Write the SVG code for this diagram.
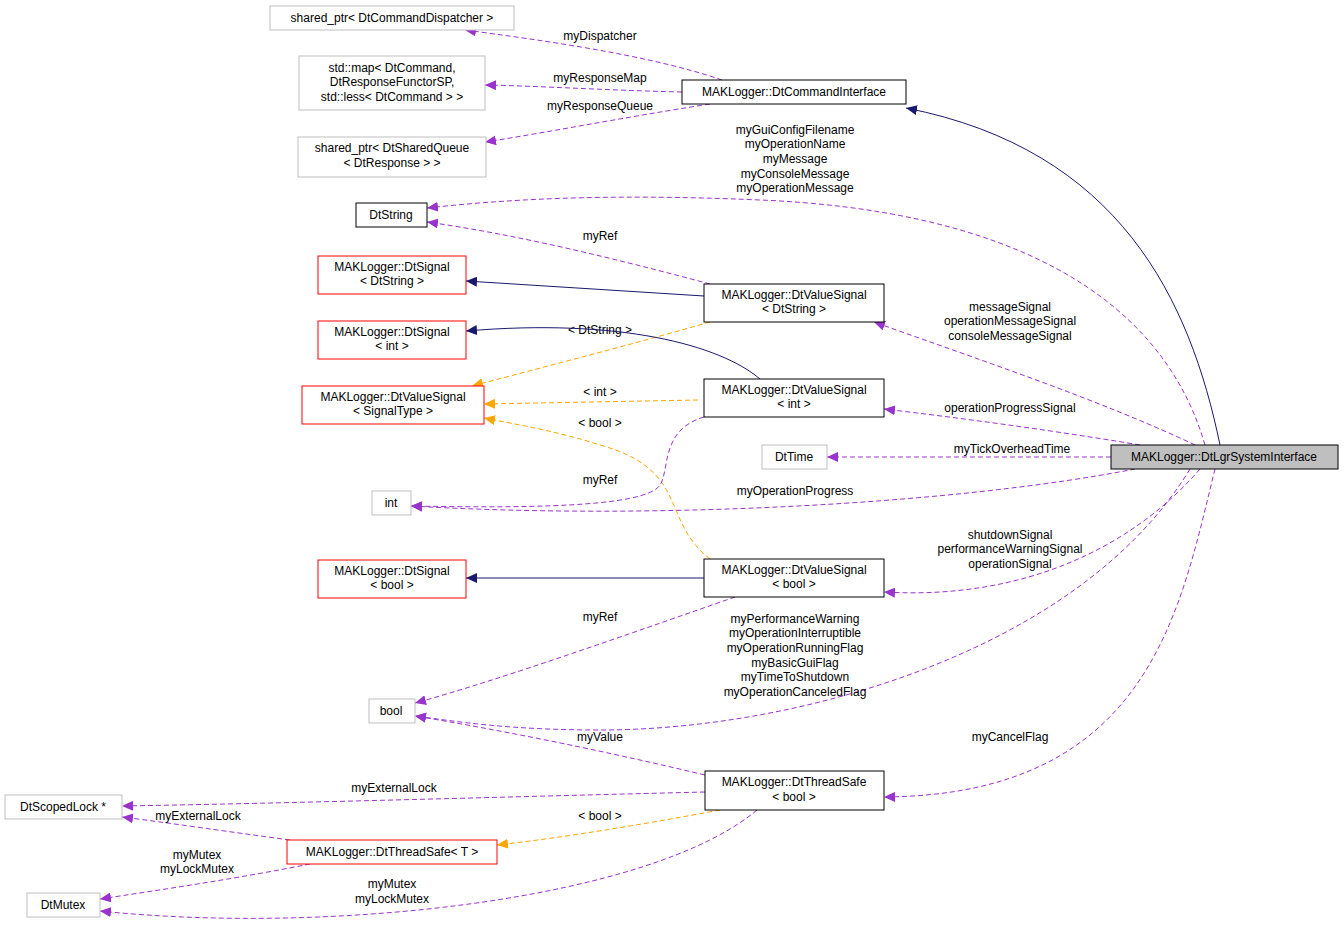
<svg xmlns="http://www.w3.org/2000/svg" width="1344" height="930" viewBox="0 0 1344 930">
<style>
text{font-family:"Liberation Sans",Arial,sans-serif;font-size:12px;fill:#000;text-anchor:middle}
.g{fill:#fff;stroke:#bfbfbf}
.b{fill:#fff;stroke:#000}
.r{fill:#fff;stroke:#ff0000}
.p{fill:none;stroke:#9a32cd;stroke-dasharray:5,3;marker-end:url(#mp)}
.o{fill:none;stroke:#ffa500;stroke-dasharray:5,3;marker-end:url(#mo)}
.n{fill:none;stroke:#191970;marker-end:url(#mn)}
</style>
<defs>
<marker id="mp" markerWidth="12" markerHeight="10" refX="11" refY="5" orient="auto" markerUnits="userSpaceOnUse"><path d="M0,0L11,5L0,10z" fill="#9a32cd"/></marker>
<marker id="mo" markerWidth="12" markerHeight="10" refX="11" refY="5" orient="auto" markerUnits="userSpaceOnUse"><path d="M0,0L11,5L0,10z" fill="#ffa500"/></marker>
<marker id="mn" markerWidth="12" markerHeight="10" refX="11" refY="5" orient="auto" markerUnits="userSpaceOnUse"><path d="M0,0L11,5L0,10z" fill="#191970"/></marker>
</defs>
<rect width="1344" height="930" fill="#fff"/>
<g id="edges">
<path class="p" d="M722,80C650,55 540,40 465,30"/><text x="600" y="40">myDispatcher</text>
<path class="p" d="M682,92C600,90 540,86 485,85"/><text x="600" y="82">myResponseMap</text>
<path class="p" d="M710,104C620,118 550,132 485,142"/><text x="600" y="110">myResponseQueue</text>
<path class="n" d="M1220,445C1190,300 1120,150 906,108"/>
<path class="p" d="M1205,445C1160,290 1000,210 760,200C600,193 500,200 427,208"/>
<text x="795" y="134">myGuiConfigFilename</text><text x="795" y="148">myOperationName</text><text x="795" y="163">myMessage</text><text x="795" y="178">myConsoleMessage</text><text x="795" y="192">myOperationMessage</text>
<path class="p" d="M710,284C620,260 520,235 427,222"/><text x="600" y="240">myRef</text>
<path class="n" d="M704,296L466,281"/>
<path class="o" d="M710,322C630,345 540,368 472,386"/><text x="600" y="334">&lt; DtString &gt;</text>
<path class="n" d="M760,379C720,345 620,318 466,331"/>
<path class="o" d="M698,400L484,404"/><text x="600" y="396">&lt; int &gt;</text>
<path class="o" d="M710,559C660,520 690,470 600,445C560,432 520,425 484,418"/><text x="600" y="427">&lt; bool &gt;</text>
<path class="p" d="M704,417C660,430 670,470 660,485C645,508 520,508 411,506"/><text x="600" y="484">myRef</text>
<path class="p" d="M1195,445C1100,400 980,360 874,322"/>
<text x="1010" y="311">messageSignal</text><text x="1010" y="325">operationMessageSignal</text><text x="1010" y="340">consoleMessageSignal</text>
<path class="p" d="M1140,445C1050,430 960,418 884,409"/><text x="1010" y="412">operationProgressSignal</text>
<path class="p" d="M1111,457L827,457"/><text x="1012" y="453">myTickOverheadTime</text>
<path class="p" d="M1135,469C950,505 650,520 411,506"/><text x="795" y="495">myOperationProgress</text>
<path class="n" d="M704,578L466,578"/>
<path class="p" d="M1200,469C1130,550 1020,600 884,592"/>
<text x="1010" y="539">shutdownSignal</text><text x="1010" y="553">performanceWarningSignal</text><text x="1010" y="568">operationSignal</text>
<path class="p" d="M735,597C640,630 500,680 415,703"/><text x="600" y="621">myRef</text>
<path class="p" d="M1190,469C1080,650 800,730 600,730C510,730 460,722 415,716"/>
<text x="795" y="623">myPerformanceWarning</text><text x="795" y="637">myOperationInterruptible</text><text x="795" y="652">myOperationRunningFlag</text><text x="795" y="667">myBasicGuiFlag</text><text x="795" y="681">myTimeToShutdown</text><text x="795" y="696">myOperationCanceledFlag</text>
<path class="p" d="M705,775C600,750 500,730 415,716"/><text x="600" y="741">myValue</text>
<path class="p" d="M1215,469C1180,610 1150,795 884,797"/><text x="1010" y="741">myCancelFlag</text>
<path class="p" d="M705,792C500,797 300,803 122,806"/><text x="394" y="792">myExternalLock</text>
<path class="p" d="M290,840C230,832 170,823 122,817"/><text x="198" y="820">myExternalLock</text>
<path class="o" d="M720,810C640,825 560,838 497,845"/><text x="600" y="820">&lt; bool &gt;</text>
<path class="p" d="M310,864C240,878 160,890 100,899"/><text x="197" y="859">myMutex</text><text x="197" y="873">myLockMutex</text>
<path class="p" d="M757,810C650,900 330,935 100,911"/><text x="392" y="888">myMutex</text><text x="392" y="903">myLockMutex</text>
</g>
<g id="n1"><rect class="g" x="270" y="6" width="244" height="24"/><text x="392" y="22">shared_ptr&lt; DtCommandDispatcher &gt;</text></g>
<g id="n2"><rect class="g" x="299" y="56" width="186" height="54"/><text x="392" y="72">std::map&lt; DtCommand,</text><text x="392" y="86">DtResponseFunctorSP,</text><text x="392" y="101">std::less&lt; DtCommand &gt; &gt;</text></g>
<g id="n3"><rect class="g" x="298" y="137" width="188" height="40"/><text x="392" y="152">shared_ptr&lt; DtSharedQueue</text><text x="392" y="167">&lt; DtResponse &gt; &gt;</text></g>
<g id="n4"><rect class="b" x="356" y="203" width="71" height="24"/><text x="391" y="219">DtString</text></g>
<g id="n5"><rect class="r" x="318" y="256" width="148" height="38"/><text x="392" y="271">MAKLogger::DtSignal</text><text x="392" y="285">&lt; DtString &gt;</text></g>
<g id="n6"><rect class="r" x="318" y="321" width="148" height="38"/><text x="392" y="336">MAKLogger::DtSignal</text><text x="392" y="350">&lt; int &gt;</text></g>
<g id="n7"><rect class="r" x="302" y="386" width="182" height="38"/><text x="393" y="401">MAKLogger::DtValueSignal</text><text x="393" y="415">&lt; SignalType &gt;</text></g>
<g id="n8"><rect class="g" x="372" y="491" width="39" height="24"/><text x="391" y="507">int</text></g>
<g id="n9"><rect class="g" x="762" y="445" width="65" height="24"/><text x="794" y="461">DtTime</text></g>
<g id="n10"><rect class="r" x="318" y="560" width="148" height="38"/><text x="392" y="575">MAKLogger::DtSignal</text><text x="392" y="589">&lt; bool &gt;</text></g>
<g id="n11"><rect class="g" x="369" y="699" width="46" height="24"/><text x="391" y="715">bool</text></g>
<g id="n12"><rect class="g" x="5" y="795" width="117" height="24"/><text x="63" y="811">DtScopedLock *</text></g>
<g id="n13"><rect class="r" x="287" y="840" width="210" height="24"/><text x="392" y="856">MAKLogger::DtThreadSafe&lt; T &gt;</text></g>
<g id="n14"><rect class="g" x="27" y="893" width="73" height="24"/><text x="63" y="909">DtMutex</text></g>
<g id="n15"><rect class="b" x="682" y="80" width="224" height="24"/><text x="794" y="96">MAKLogger::DtCommandInterface</text></g>
<g id="n16"><rect class="b" x="704" y="284" width="180" height="38"/><text x="794" y="299">MAKLogger::DtValueSignal</text><text x="794" y="313">&lt; DtString &gt;</text></g>
<g id="n17"><rect class="b" x="704" y="379" width="180" height="38"/><text x="794" y="394">MAKLogger::DtValueSignal</text><text x="794" y="408">&lt; int &gt;</text></g>
<g id="n18"><rect class="b" x="704" y="559" width="180" height="38"/><text x="794" y="574">MAKLogger::DtValueSignal</text><text x="794" y="588">&lt; bool &gt;</text></g>
<g id="n19"><rect class="b" x="705" y="771" width="179" height="39"/><text x="794" y="786">MAKLogger::DtThreadSafe</text><text x="794" y="801">&lt; bool &gt;</text></g>
<g id="n20"><rect x="1111" y="445" width="227" height="24" fill="#bfbfbf" stroke="#000"/><text x="1224" y="461">MAKLogger::DtLgrSystemInterface</text></g>
</svg>
